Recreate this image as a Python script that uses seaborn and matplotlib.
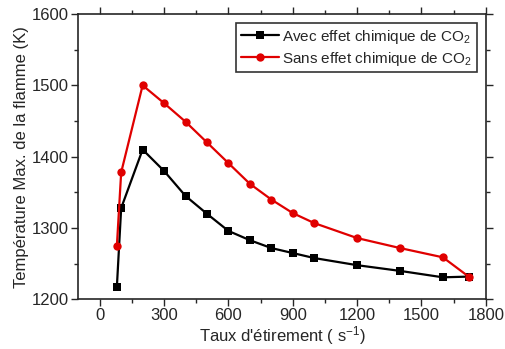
import numpy as np
import pandas as pd
import matplotlib
matplotlib.use("Agg")
import matplotlib.pyplot as plt
import seaborn as sns
from matplotlib.ticker import MultipleLocator

# data
strain = [80, 100, 200, 300, 400, 500, 600, 700, 800, 900, 1000, 1200, 1400, 1600, 1720]
t_avec = [1218, 1328, 1410, 1380, 1345, 1320, 1296, 1283, 1272, 1265, 1258, 1248, 1240, 1231, 1232]
t_sans = [1275, 1378, 1500, 1475, 1449, 1420, 1391, 1362, 1340, 1321, 1307, 1286, 1272, 1259, 1232]
lab_avec = "Avec effet chimique de CO$_2$"
lab_sans = "Sans effet chimique de CO$_2$"

df = pd.DataFrame({
    "x": strain * 2,
    "T": t_avec + t_sans,
    "serie": [lab_avec] * len(strain) + [lab_sans] * len(strain),
})

sns.set_style("ticks")
plt.rcParams["font.family"] = ["Liberation Sans", "DejaVu Sans"]
plt.rcParams["mathtext.fontset"] = "custom"
plt.rcParams["mathtext.rm"] = "Liberation Sans"
plt.rcParams["mathtext.it"] = "Liberation Sans"

fig, ax = plt.subplots(figsize=(5.05, 3.49), dpi=100)
sns.lineplot(data=df, x="x", y="T", hue="serie", style="serie",
             palette={lab_avec: "black", lab_sans: "#e00000"},
             markers={lab_avec: "s", lab_sans: "o"}, dashes=False,
             markersize=6, markeredgewidth=0, linewidth=1.6, ax=ax)

ax.set_xlim(-100, 1800)
ax.set_ylim(1200, 1600)
ax.xaxis.set_major_locator(MultipleLocator(300))
ax.xaxis.set_minor_locator(MultipleLocator(150))
ax.yaxis.set_major_locator(MultipleLocator(100))
ax.yaxis.set_minor_locator(MultipleLocator(50))
ax.tick_params(which="both", top=True, right=True, labelsize=12, width=1, pad=1.5)
ax.tick_params(which="major", length=5)
ax.tick_params(which="minor", length=3)
for s in ax.spines.values():
    s.set_linewidth(1.2)

ax.set_xlabel("Taux d'étirement ( s$^{-1}$)", fontsize=12, labelpad=0.5)
ax.set_ylabel("Température Max. de la flamme (K)", fontsize=12, labelpad=2)

leg = ax.legend(loc="upper right", fontsize=11, frameon=True, fancybox=False,
                edgecolor="black", handlelength=2.5, borderpad=0.3,
                labelspacing=0.25, handletextpad=0.2, borderaxespad=0.6)
leg.get_frame().set_linewidth(1.2)

fig.subplots_adjust(left=0.155, right=0.962, top=0.96, bottom=0.142)
fig.savefig("out.png", dpi=100)
